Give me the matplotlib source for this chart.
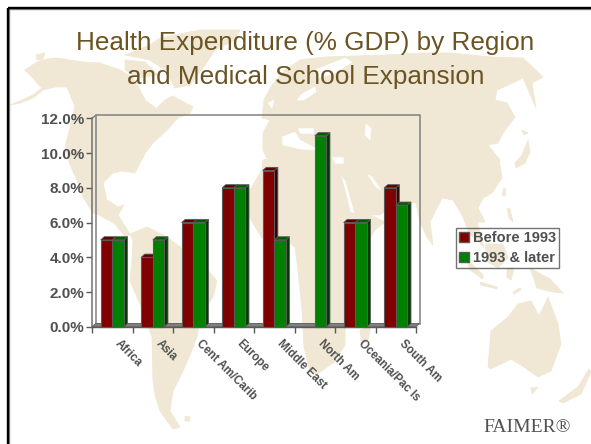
import matplotlib
matplotlib.use("Agg")
import matplotlib.pyplot as plt
from matplotlib.patches import Polygon, Rectangle
from matplotlib.transforms import ScaledTranslation

# ---- data ----
regions = ["Africa", "Asia", "Cent Am/Carib", "Europe", "Middle East", "North Am", "Oceania/Pac Is", "South Am"]
before_1993 = [5, 4, 6, 8, 9, 0, 6, 8]
later_1993 = [5, 5, 6, 8, 5, 11, 6, 7]
y_ticks = [0, 2, 4, 6, 8, 10, 12]
title_text = "Health Expenditure (% GDP) by Region\nand Medical School Expansion"
series_names = ["Before 1993", "1993 & later"]

# ---- decorative world-map backdrop outline (pixel space) ----
MAP_LAND = [
    # North America
    [(10,105),(22,100),(33,95),(42,88),(36,82),(33,78),(25,70),(37,62),(47,59),(57,58),(70,60),(83,62),(100,63),(120,70),(133,78),(140,90),
     (146,100),(157,108),(165,100),(173,96),(193,107),(190,113),(178,118),(167,130),(153,143),(146,152),(140,163),(135,173),(122,171),(113,173),(103,183),(107,200),
     (118,207),(124,205),(118,215),(130,234),(126,238),(115,224),(97,214),(93,213),(83,197),(77,180),(70,165),(65,147),(70,127),(75,107),(67,87),(55,87),(43,90),(33,98),(20,103)],
    # South America
    [(130,234),(147,227),(167,237),(180,247),(193,257),(206,268),(217,281),(213,297),(200,317),(197,337),(190,355),(183,371),(173,391),(170,411),(180,427),(173,429),
     (160,411),(155,395),(153,381),(152,337),(140,304),(130,281),(132,261),(133,241)],
    [(185,416),(190,417),(190,421),(185,421)],
    # Greenland and Arctic islands
    [(160,38),(200,30),(240,30),(235,40),(215,50),(205,65),(190,85),(175,88),(165,70),(150,60),(125,55),(150,45)],
    [(125,60),(145,62),(158,75),(140,78),(125,70)],
    [(36,55),(45,53),(43,59),(37,60)],
    # Eurasia
    [(262,118),(264,100),(272,85),(285,70),(300,60),(325,57),(385,55),(424,53),(451,53),(491,57),(523,58),(543,77),(532,83),(536,108),(527,87),(523,78),(515,82),(497,90),(495,100),
     (507,103),(515,117),(503,133),(498,143),(488,145),(500,160),(498,170),(500,165),(502,178),(492,193),(483,198),(478,208),(485,222),(477,222),(484,248),(478,240),(470,235),(462,215),(453,200),(442,198),
     (430,222),(433,245),(427,237),(420,222),(416,203),(397,203),(380,215),(355,215),(345,180),(335,165),(300,162),(270,165),(263,150),(263,133),(270,120)],
    # Africa
    [(263,160),(300,155),(335,160),(343,182),(353,213),(370,215),(385,222),(375,230),(360,255),(352,280),(348,310),(345,330),(345,345),(334,362),(316,375),(310,372),(304,347),(302,310),
     (298,270),(295,247),(285,240),(262,238),(248,215),(250,190),(262,170)],
    # Smaller lands
    [(360,330),(371,326),(368,340),(362,344)],
    [(488,367),(491,331),(508,317),(518,304),(531,301),(539,316),(548,297),(558,324),(561,344),(551,371),(538,377),(524,367),(511,359),(491,369)],
    [(531,388),(538,387),(532,394)],
    [(559,401),(578,387),(589,369),(591,372),(581,394),(563,403)],
    [(480,282),(497,287),(497,289),(481,285)],
    [(466,258),(483,275),(483,279),(470,270)],
    [(530,268),(550,279),(563,293),(553,292),(537,288)],
    [(485,244),(503,244),(508,258),(498,268),(488,262)],
    [(507,268),(514,268),(511,280),(507,277)],
    [(513,292),(520,288),(521,290),(514,294)],
    [(515,163),(522,155),(528,140),(530,152),(525,163),(516,168)],
    [(522,130),(528,133),(524,135)],
    [(503,188),(505,188),(505,195),(502,195)],
    [(507,208),(510,209),(513,222),(509,218)],
]
MAP_SEA = [
    [(140,88),(157,85),(155,100),(157,108),(146,100)],
    [(282,137),(295,132),(300,140),(313,147),(318,150),(300,149),(283,145)],
    [(298,128),(313,128),(313,133),(300,133)],
    [(332,157),(343,157),(343,163),(335,163)],
    [(343,180),(345,181),(354,213),(351,212)],
    [(368,175),(372,177),(381,190),(376,187)],
    [(297,100),(302,94),(315,87),(316,92),(304,100)],
    [(315,70),(345,58),(352,62),(335,73),(318,78)],
    [(268,103),(274,100),(272,108)],
    [(366,124),(371,128),(370,140),(365,135)],
]

LAND = "#F0E8D5"
INK = "#505050"
EDGE = "#595959"

plt.rcParams["font.family"] = ["Liberation Sans", "DejaVu Sans"]
W, H = 591, 444
fig = plt.figure(figsize=(W / 100, H / 100), dpi=100, facecolor="white")

bg = fig.add_axes([0, 0, 1, 1])
bg.set_xlim(0, W)
bg.set_ylim(H, 0)
bg.axis("off")
for p in MAP_LAND:
    bg.add_patch(Polygon(p, closed=True, fc=LAND, ec=LAND, lw=0.6))
for p in MAP_SEA:
    bg.add_patch(Polygon(p, closed=True, fc="white", ec="white", lw=0.4))
# slide frame
bg.add_patch(Rectangle((9, 9), W, H, fc="none", ec="#8c8c8c", lw=1, joinstyle="miter"))
bg.add_patch(Rectangle((7.7, 7.7), W, H, fc="none", ec="black", lw=1.7, joinstyle="miter"))
bg.text(305.5, 60, title_text, ha="center", va="center", fontsize=18.85, color="#6B5423", linespacing=1.48)
bg.text(483, 427, "FAIMER®", ha="left", va="center", fontsize=14, color="#505050", family=["Liberation Serif"])

# ---- chart ----
x0, y0, x1, y1 = 92, 326.7, 416, 118.5
ax = fig.add_axes([x0 / W, 1 - y0 / H, (x1 - x0) / W, (y0 - y1) / H])
ax.patch.set_alpha(0)
ax.set_xlim(0, len(regions))
ax.set_ylim(0, 12)
n = len(regions)
dx = 3.6 / ((x1 - x0) / n)
dy = 3.2 / ((y0 - y1) / 12)

# walls and floor
ax.plot([dx, dx, n + dx, n + dx], [dy, 12 + dy, 12 + dy, dy], color="#808080", lw=1.1, clip_on=False, zorder=1)
ax.plot([0, dx], [12, 12 + dy], color="#808080", lw=1, clip_on=False, zorder=1)
ax.add_patch(Polygon([(0, 0), (n, 0), (n + dx, dy), (dx, dy)], fc="#808080", ec=EDGE, lw=0.6, clip_on=False, zorder=1))

bw = 0.287
start = 0.213
styles = [(before_1993, 0, "#800000", "#5c0000", "#3c0000"), (later_1993, 1, "#008000", "#005c00", "#003c00")]
for vals, k, face, top, side in styles:
    for i, v in enumerate(vals):
        if v == 0:
            continue
        l = i + start + k * bw
        r = l + bw
        ax.add_patch(Polygon([(r, 0), (r + dx, dy), (r + dx, v + dy), (r, v)], fc=side, ec=EDGE, lw=0.6, zorder=2 + k * 2, clip_on=False))
        ax.add_patch(Polygon([(l, v), (r, v), (r + dx, v + dy), (l + dx, v + dy)], fc=top, ec=EDGE, lw=0.6, zorder=2 + k * 2, clip_on=False))
        ax.bar(l, v, width=bw, align="edge", color=face, edgecolor=EDGE, lw=0.8, zorder=3 + k * 2, clip_on=False)

for s in ("top", "right"):
    ax.spines[s].set_visible(False)
ax.spines["left"].set_color("#707070")
ax.spines["left"].set_linewidth(1.1)
ax.spines["bottom"].set_color(EDGE)
ax.spines["bottom"].set_linewidth(1)

ax.set_yticks(y_ticks)
ax.set_yticklabels([f"{v:.1f}%" for v in y_ticks], fontsize=11, fontweight="bold", color=INK)
ax.tick_params(axis="y", length=4, width=1, color=EDGE, pad=1.5)
ax.set_xticks(range(n + 1))
ax.set_xticklabels([])
ax.tick_params(axis="x", which="major", length=4, width=1, color=EDGE)
ax.set_xticks([i + 0.5 for i in range(n)], minor=True)
ax.set_xticklabels(regions, minor=True, rotation=-45, ha="left", va="center", rotation_mode="anchor",
                   fontsize=8.3, fontweight="bold", color=INK)
ax.tick_params(axis="x", which="minor", length=0, pad=0)
shift = ScaledTranslation(5 / 100, -15 / 100, fig.dpi_scale_trans)
for lab in ax.get_xticklabels(minor=True):
    lab.set_transform(lab.get_transform() + shift)

handles = [Rectangle((0, 0), 1, 1, fc="#800000", ec=EDGE, lw=1), Rectangle((0, 0), 1, 1, fc="#008000", ec=EDGE, lw=1)]
leg = fig.legend(handles, series_names, loc="center", bbox_to_anchor=(507.5 / W, 1 - 248 / H),
                 frameon=True, fancybox=False, edgecolor="#505050", facecolor="none",
                 prop={"size": 10.5, "weight": "bold", "family": "Liberation Sans"},
                 handlelength=0.68, handleheight=0.68, handletextpad=0.25, labelspacing=0.4,
                 borderpad=0.2, borderaxespad=0, labelcolor=INK)
leg.get_frame().set_linewidth(1)

fig.savefig("out.png", dpi=100)
